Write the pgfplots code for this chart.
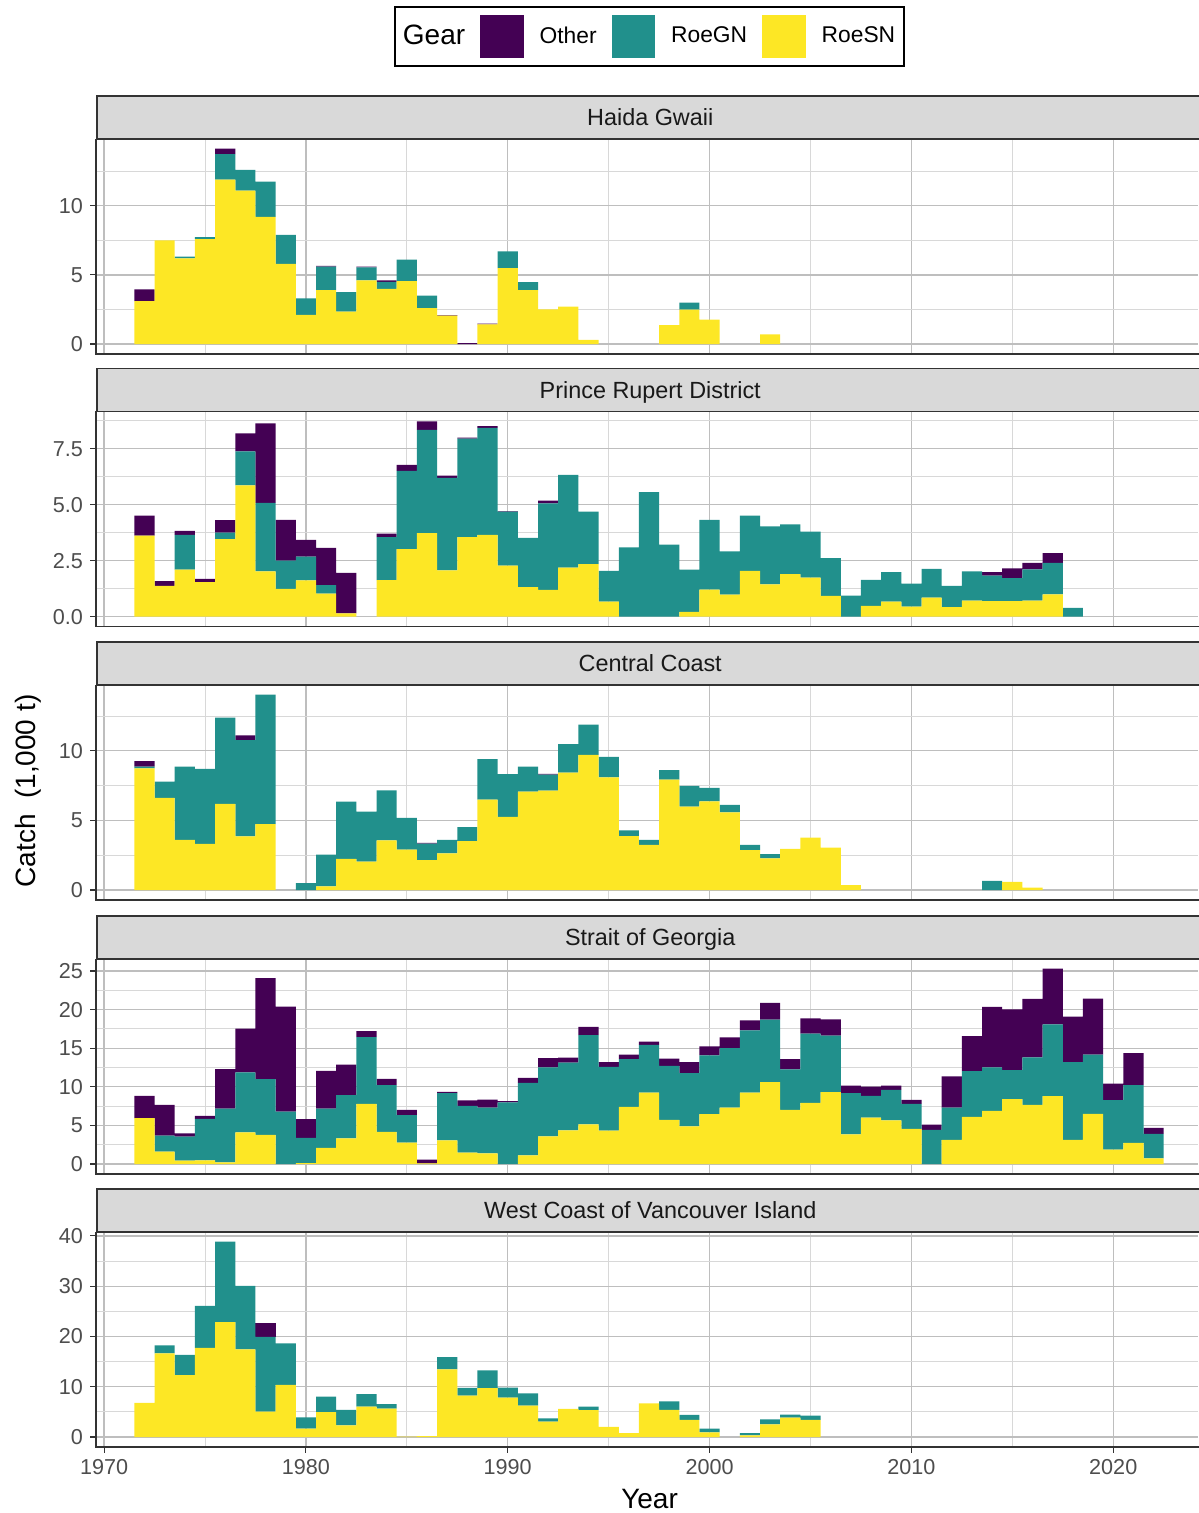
\documentclass[border=0pt]{standalone}
\usepackage{fontspec}
\setmainfont{Liberation Sans}
\usepackage{pgfplots}
\usepackage{pgfplotstable}
\pgfplotsset{compat=1.18}

\definecolor{vOther}{HTML}{440154}
\definecolor{vGN}{HTML}{21908C}
\definecolor{vSN}{HTML}{FDE725}
\definecolor{framec}{HTML}{333333}
\definecolor{stripfill}{HTML}{D9D9D9}
\definecolor{tickgray}{HTML}{4D4D4D}
\definecolor{gmaj}{HTML}{BEBEBE}
\definecolor{gmin}{HTML}{D8D8D8}

\pgfplotstableread{
year SN GN OT
1972 3.1 0 0.85
1973 7.5 0 0
1974 6.2 0.12 0
1975 7.6 0.13 0
1976 11.9 1.85 0.4
1977 11.1 1.5 0
1978 9.2 2.55 0
1979 5.8 2.1 0
1980 2.1 1.2 0
1981 3.9 1.7 0.06
1982 2.35 1.4 0
1983 4.6 0.95 0.05
1984 4.0 0.5 0.1
1985 4.55 1.55 0
1986 2.6 0.9 0
1987 2.05 0 0.04
1988 0 0 0.06
1989 1.42 0 0.06
1990 5.5 1.2 0
1991 3.9 0.58 0
1992 2.5 0 0
1993 2.7 0 0
1994 0.3 0 0
1998 1.37 0 0
1999 2.48 0.51 0
2000 1.76 0 0
2003 0.7 0 0
}\hg

\pgfplotstableread{
year SN GN OT
1972 3.62 0 0.89
1973 1.38 0 0.21
1974 2.10 1.55 0.18
1975 1.54 0 0.15
1976 3.47 0.29 0.55
1977 5.87 1.51 0.81
1978 2.02 3.07 3.55
1979 1.24 1.26 1.83
1980 1.62 1.06 0.75
1981 1.03 0.38 1.67
1982 0.15 0 1.81
1984 1.63 1.92 0.16
1985 3.02 3.49 0.27
1986 3.73 4.62 0.38
1987 2.07 4.13 0.10
1988 3.56 4.39 0.05
1989 3.65 4.79 0.07
1990 2.28 2.41 0.03
1991 1.32 2.2 0
1992 1.2 3.86 0.13
1993 2.19 4.14 0
1994 2.35 2.34 0
1995 0.67 1.38 0
1996 0 3.1 0
1997 0 5.57 0
1998 0 3.22 0
1999 0.22 1.88 0
2000 1.21 3.12 0
2001 0.99 1.93 0
2002 2.05 2.46 0
2003 1.44 2.59 0
2004 1.9 2.22 0
2005 1.75 2.05 0
2006 0.93 1.69 0
2007 0 0.94 0
2008 0.48 1.17 0
2009 0.67 1.32 0
2010 0.45 1.03 0
2011 0.85 1.29 0
2012 0.43 0.95 0
2013 0.72 1.3 0
2014 0.7 1.14 0.15
2015 0.7 1.02 0.44
2016 0.72 1.39 0.3
2017 1.0 1.41 0.43
2018 0 0.39 0
}\pr

\pgfplotstableread{
year SN GN OT
1972 8.73 0.14 0.38
1973 6.61 1.18 0
1974 3.61 5.26 0
1975 3.32 5.38 0
1976 6.18 6.2 0
1977 3.85 6.92 0.34
1978 4.74 9.30 0
1980 0 0.5 0
1981 0.26 2.29 0
1982 2.24 4.11 0
1983 2.04 3.59 0
1984 3.56 3.60 0
1985 2.91 2.28 0
1986 2.14 1.2 0.05
1987 2.64 0.97 0
1988 3.51 1.01 0
1989 6.49 2.91 0
1990 5.26 3.06 0
1991 7.07 1.8 0
1992 7.14 1.15 0.05
1993 8.44 2.04 0
1994 9.71 2.17 0
1995 8.1 1.47 0
1996 3.87 0.41 0
1997 3.25 0.36 0
1998 7.93 0.68 0
1999 5.99 1.49 0
2000 6.37 0.96 0
2001 5.58 0.53 0
2002 2.86 0.39 0
2003 2.28 0.29 0
2004 2.96 0 0
2005 3.77 0 0
2006 3.05 0 0
2007 0.36 0 0
2014 0 0.65 0
2015 0.58 0 0
2016 0.17 0 0
}\cc

\pgfplotstableread{
year SN GN OT
1972 5.93 0 2.9
1973 1.6 2.08 3.98
1974 0.43 3.12 0.43
1975 0.48 5.36 0.39
1976 0.22 6.97 5.1
1977 4.11 7.75 5.67
1978 3.77 7.23 13.07
1979 0 6.8 13.59
1980 0.13 3.25 2.42
1981 2.08 5.11 4.89
1982 3.33 5.59 3.94
1983 7.79 8.66 0.78
1984 4.16 6.06 0.82
1985 2.77 3.55 0.69
1986 0.1 0 0.46
1987 3.07 6.11 0.17
1988 1.47 6.06 0.7
1989 1.39 5.93 1.03
1990 0 8.0 0.14
1991 1.13 9.39 0.65
1992 3.59 8.92 1.21
1993 4.37 8.75 0.65
1994 5.15 11.56 1.04
1995 4.33 8.27 0.6
1996 7.4 6.19 0.57
1997 9.26 6.19 0.39
1998 5.71 7.02 0.91
1999 4.89 6.88 1.43
2000 6.45 7.62 1.17
2001 7.32 7.7 1.39
2002 9.26 8.06 1.29
2003 10.61 8.09 2.17
2004 7.01 5.24 1.34
2005 7.92 8.96 1.99
2006 9.31 7.31 2.12
2007 3.85 5.33 0.99
2008 6.02 2.81 1.21
2009 5.67 3.94 0.56
2010 4.55 3.24 0.52
2011 0 4.42 0.69
2012 3.12 4.2 4.02
2013 6.1 5.93 4.55
2014 6.88 5.63 7.84
2015 8.4 3.76 7.88
2016 7.66 6.15 7.58
2017 8.79 9.31 7.22
2018 3.12 10.08 5.89
2019 6.49 7.67 7.27
2020 1.86 6.41 2.16
2021 2.73 7.49 4.15
2022 0.74 3.16 0.78
}\sog

\pgfplotstableread{
year SN GN OT
1972 6.79 0 0
1973 16.64 1.6 0
1974 12.32 4.0 0
1975 17.71 8.39 0
1976 22.84 16.04 0
1977 17.44 12.65 0
1978 5.06 14.85 2.86
1979 10.39 8.25 0
1980 1.66 2.27 0
1981 4.93 3.13 0
1982 2.33 3.06 0
1983 6.06 2.46 0
1984 5.66 0.86 0
1985 0.1 0 0
1986 0.2 0 0
1987 13.45 2.46 0
1988 8.26 1.53 0
1989 9.72 3.53 0
1990 7.85 2.0 0
1991 6.27 2.4 0
1992 3.07 0.66 0
1993 5.6 0 0
1994 5.33 0.74 0
1995 2.0 0 0
1996 0.8 0 0
1997 6.67 0 0
1998 5.4 1.67 0
1999 3.4 1.0 0
2000 0.93 0.74 0
2002 0.33 0.47 0
2003 2.53 1.0 0
2004 3.87 0.6 0
2005 3.4 0.87 0
}\wcvi

\pgfplotsset{
  panel/.style={
    scale only axis, width=551pt, height=107.5pt,
    xmin=1969.6, xmax=2024.2,
    ybar stacked, bar width=1,
    axis line style={draw=none},
    tick align=outside, major tick length=3pt, minor tick length=0pt,
    tick style={color=framec, line width=0.55pt},
    xtick={1970,1980,...,2020}, minor xtick={1975,1985,...,2015},
    xticklabels={}, xtick style={draw=none},
    ytick pos=left, xtick pos=bottom,
    grid=both,
    major grid style={color=gmaj, line width=0.6pt},
    minor grid style={color=gmin, line width=0.45pt},
    yticklabel style={font=\fontsize{10.8}{12}\selectfont, text=tickgray},
    xticklabel style={font=\fontsize{10.8}{12}\selectfont, text=tickgray},
    every axis title/.style={at={(axis description cs:0,1)}, anchor=west,
      yshift=10.75pt, fill=stripfill, draw=framec, line width=0.75pt,
      minimum width=553.5pt, minimum height=21.5pt, inner sep=0pt,
      text height=8.4pt, text depth=0pt, align=center,
      font=\fontsize{11.7}{13}\selectfont, text=black!90},
    clip=false,
  },
}

\newcommand{\panelframe}{%
  \draw[framec, line width=0.75pt] (rel axis cs:1.01,0) -- (rel axis cs:0,0) -- (rel axis cs:0,1);
}

\begin{document}
\begin{tikzpicture}
\path[use as bounding box] (0,0) rectangle (599pt,756.5pt);

% Haida Gwaii
\begin{axis}[panel, at={(48pt,579.6pt)}, title={Haida Gwaii},
  ymin=-0.7075, ymax=14.8575,
  ytick={0,5,10}, yticklabels={0,5,10}, minor ytick={2.5,7.5,12.5},
  legend style={at={(axis description cs:0.5023,1.4758)}, anchor=center,
    draw=black, line width=0.75pt, legend columns=-1,
    font=\fontsize{11.4}{13}\selectfont, inner xsep=2.5pt, inner ysep=3.8pt,
    /tikz/every odd column/.append style={column sep=6pt},
    /tikz/every even column/.append style={column sep=5.5pt}},
  ]
\addplot[fill=vSN, draw=none, forget plot] table[x=year,y=SN]{\hg};
\addplot[fill=vGN, draw=none, forget plot] table[x=year,y=GN]{\hg};
\addplot[fill=vOther, draw=none, forget plot] table[x=year,y=OT]{\hg};
\addlegendimage{empty legend}
\addlegendentry{\hspace*{-6.5pt}\fontsize{14}{16}\selectfont Gear}
\addlegendimage{legend image code/.code={\fill[vOther] (0pt,-10.5pt) rectangle (21pt,10.5pt);}}
\addlegendentry{Other}
\addlegendimage{legend image code/.code={\fill[vGN] (0pt,-10.5pt) rectangle (21pt,10.5pt);}}
\addlegendentry{RoeGN}
\addlegendimage{legend image code/.code={\fill[vSN] (0pt,-10.5pt) rectangle (21pt,10.5pt);}}
\addlegendentry{RoeSN}
\panelframe
\end{axis}

% Prince Rupert District
\begin{axis}[panel, at={(48pt,443.25pt)}, title={Prince Rupert District},
  ymin=-0.4365, ymax=9.1665,
  ytick={0,2.5,5,7.5}, yticklabels={0.0,2.5,5.0,7.5}, minor ytick={1.25,3.75,6.25,8.75},
  ]
\addplot[fill=vSN, draw=none] table[x=year,y=SN]{\pr};
\addplot[fill=vGN, draw=none] table[x=year,y=GN]{\pr};
\addplot[fill=vOther, draw=none] table[x=year,y=OT]{\pr};
\panelframe
\end{axis}

% Central Coast
\begin{axis}[panel, at={(48pt,306.6pt)}, title={Central Coast},
  ymin=-0.702, ymax=14.742,
  ytick={0,5,10}, yticklabels={0,5,10}, minor ytick={2.5,7.5,12.5},
  ylabel={Catch~~(1,000 t)},
  ylabel style={at={(axis description cs:-0.0617,0.506)}, anchor=center,
    font=\fontsize{14}{16}\selectfont, text=black},
  ]
\addplot[fill=vSN, draw=none] table[x=year,y=SN]{\cc};
\addplot[fill=vGN, draw=none] table[x=year,y=GN]{\cc};
\addplot[fill=vOther, draw=none] table[x=year,y=OT]{\cc};
\panelframe
\end{axis}

% Strait of Georgia
\begin{axis}[panel, at={(48pt,169.6pt)}, title={Strait of Georgia},
  ymin=-1.266, ymax=26.586,
  ytick={0,5,...,25}, yticklabels={0,5,10,15,20,25}, minor ytick={2.5,7.5,...,22.5},
  ]
\addplot[fill=vSN, draw=none] table[x=year,y=SN]{\sog};
\addplot[fill=vGN, draw=none] table[x=year,y=GN]{\sog};
\addplot[fill=vOther, draw=none] table[x=year,y=OT]{\sog};
\panelframe
\end{axis}

% West Coast of Vancouver Island
\begin{axis}[panel, at={(48pt,33.1pt)}, title={West Coast of Vancouver Island},
  ymin=-1.944, ymax=40.824,
  ytick={0,10,...,40}, yticklabels={0,10,20,30,40}, minor ytick={5,15,25,35},
  xticklabels={1970,1980,1990,2000,2010,2020},
  xtick style={draw=framec},
  xlabel={Year},
  xlabel style={at={(axis description cs:0.5023,-0.244)}, anchor=center,
    font=\fontsize{14}{16}\selectfont, text=black},
  ]
\addplot[fill=vSN, draw=none] table[x=year,y=SN]{\wcvi};
\addplot[fill=vGN, draw=none] table[x=year,y=GN]{\wcvi};
\addplot[fill=vOther, draw=none] table[x=year,y=OT]{\wcvi};
\panelframe
\end{axis}
\end{tikzpicture}
\end{document}
